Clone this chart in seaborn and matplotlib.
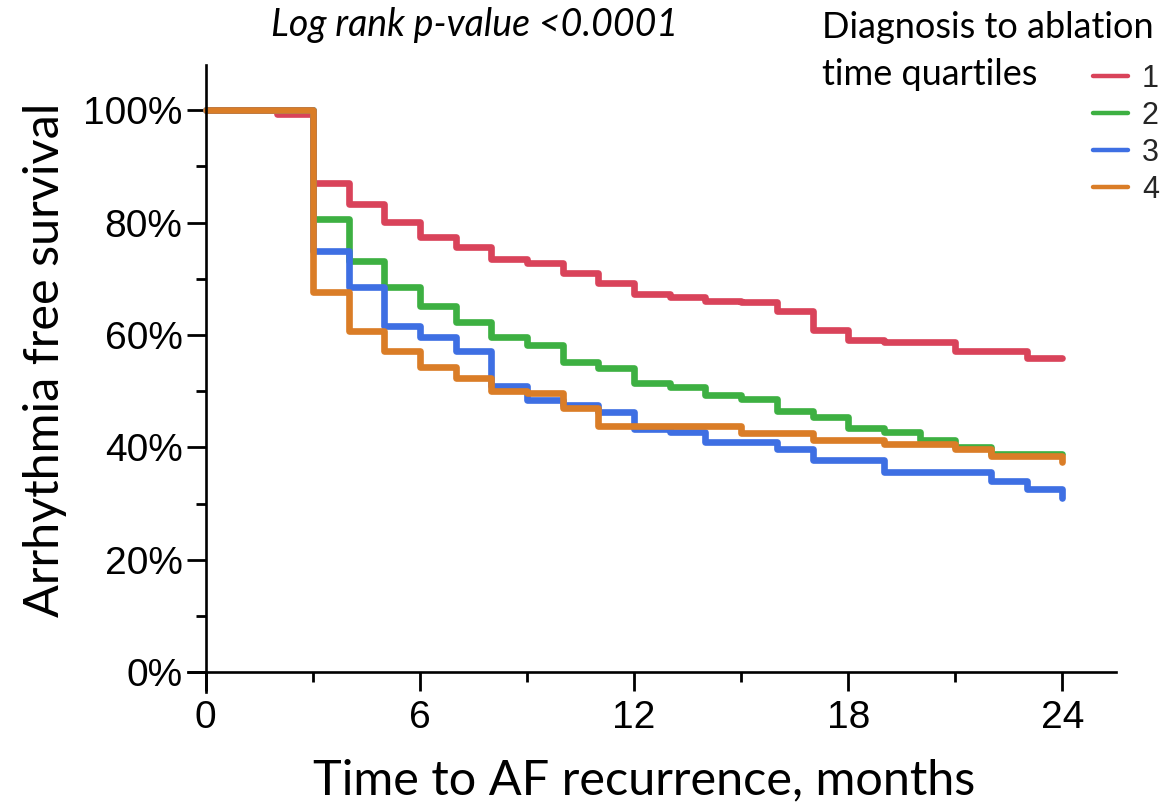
import numpy as np
import pandas as pd
import matplotlib
matplotlib.use("Agg")
import matplotlib.pyplot as plt
from matplotlib.lines import Line2D
from matplotlib.ticker import FixedLocator, FuncFormatter
import seaborn as sns

# Kaplan-Meier step estimates (months, % arrhythmia free) per quartile
months_q1 = [0, 2, 3, 4, 5, 6, 7, 8, 9, 10, 11, 12, 13, 14, 15, 16, 17, 18, 19, 21, 23, 24]
surv_q1 = [100, 99.4, 87.0, 83.3, 80.1, 77.4, 75.7, 73.5, 72.8, 71.1, 69.3, 67.3, 66.7,
           66.1, 65.8, 64.2, 60.9, 59.2, 58.7, 57.2, 56.0, 56.0]

months_q2 = [0, 3, 4, 5, 6, 7, 8, 9, 10, 11, 12, 13, 14, 15, 16, 17, 18, 19, 20, 21, 22, 24]
surv_q2 = [100, 80.6, 73.2, 68.6, 65.1, 62.3, 59.6, 58.2, 55.2, 54.2, 51.4, 50.8, 49.3,
           48.6, 46.5, 45.5, 43.4, 42.8, 41.3, 40.1, 38.8, 38.8]

months_q3 = [0, 3, 4, 5, 6, 7, 8, 9, 10, 11, 12, 13, 14, 16, 17, 19, 22, 23, 24]
surv_q3 = [100, 75.0, 68.6, 61.6, 59.7, 57.1, 51.0, 48.5, 47.6, 46.3, 43.3, 42.7, 40.9,
           39.7, 37.8, 35.6, 34.1, 32.6, 31.0]

months_q4 = [0, 3, 4, 5, 6, 7, 8, 9, 10, 11, 15, 17, 19, 21, 22, 24]
surv_q4 = [100, 67.6, 60.8, 57.2, 54.4, 52.3, 50.1, 49.7, 47.0, 43.9, 42.6, 41.3, 40.7,
           39.8, 38.5, 37.5]

quartiles = ["1", "2", "3", "4"]
quartile_colors = ["#D9435A", "#3DB042", "#3E6FE3", "#DA7D27"]

x_ticks = [0, 6, 12, 18, 24]
x_minor = [3, 9, 15, 21]
y_ticks = [0, 20, 40, 60, 80, 100]
y_minor = [10, 30, 50, 70, 90]

title_text = "Log rank p-value <0.0001"
legend_title_lines = ["Diagnosis to ablation", "time quartiles"]
x_label = "Time to AF recurrence, months"
y_label = "Arrhythmia free survival"

frames = []
for q, m, s in zip(quartiles, [months_q1, months_q2, months_q3, months_q4],
                   [surv_q1, surv_q2, surv_q3, surv_q4]):
    frames.append(pd.DataFrame({"month": m, "survival": s, "quartile": q}))
df = pd.concat(frames, ignore_index=True)

sns.set_style("ticks")
plt.rcParams["font.family"] = ["Liberation Sans", "DejaVu Sans"]
label_font = ["Lato", "Open Sans", "DejaVu Sans"]

fig = plt.figure(figsize=(11.63, 8.07), dpi=100)
ax = fig.add_axes([0.1616, 0.1419, 0.7979, 0.7772])

palette = dict(zip(quartiles, quartile_colors))
sns.lineplot(data=df, x="month", y="survival", hue="quartile", hue_order=quartiles,
             palette=palette, estimator=None, drawstyle="steps-post",
             linewidth=4.8, legend=False, ax=ax)

ax.set_xlim(-0.5, 25.5)
ax.set_ylim(-3.6, 108)

# axes cross at the origin, extending slightly past it
for side in ["top", "right"]:
    ax.spines[side].set_visible(False)
ax.spines["left"].set_position(("data", 0))
ax.spines["bottom"].set_position(("data", 0))
for side in ["left", "bottom"]:
    ax.spines[side].set_linewidth(1.9)
    ax.spines[side].set_color("black")

ax.xaxis.set_major_locator(FixedLocator(x_ticks))
ax.xaxis.set_minor_locator(FixedLocator(x_minor))
ax.yaxis.set_major_locator(FixedLocator(y_ticks))
ax.yaxis.set_minor_locator(FixedLocator(y_minor))
ax.yaxis.set_major_formatter(FuncFormatter(lambda v, p: f"{v:.0f}%"))

ax.tick_params(axis="both", which="major", length=13.7, width=2.0, labelsize=28,
               color="black", labelcolor="black")
ax.tick_params(axis="both", which="minor", length=7.0, width=2.0, color="black")
ax.tick_params(axis="x", which="major", pad=6)
ax.tick_params(axis="y", which="major", pad=3)

ax.set_xlabel(x_label, fontsize=35, family=label_font, color="black")
ax.set_ylabel(y_label, fontsize=35, family=label_font, color="black")
ax.xaxis.set_label_coords(0.4915, -0.1395)
ax.yaxis.set_label_coords(-0.154, 0.530)
ax.xaxis.label.set_va("center")
ax.yaxis.label.set_va("center")

fig.text(0.408, 0.969, title_text, fontsize=27, style="italic", family=label_font,
         ha="center", va="center", color="black")

fig.text(0.7068, 1 - 38 / 807, legend_title_lines[0], fontsize=26, family=label_font,
         ha="left", va="baseline", color="black")
fig.text(0.7068, 1 - 85 / 807, legend_title_lines[1], fontsize=26, family=label_font,
         ha="left", va="baseline", color="black")

handles = [Line2D([0], [0], color=c, lw=3.2) for c in quartile_colors]
ax.legend(handles, quartiles, loc="upper left", bbox_to_anchor=(1093 / 1163, 1 - 64 / 807),
          bbox_transform=fig.transFigure, frameon=False, fontsize=22,
          handlelength=1.15, handletextpad=0.45, labelspacing=0.23,
          borderpad=0, borderaxespad=0)

fig.savefig("out.png", dpi=100, facecolor="white")
